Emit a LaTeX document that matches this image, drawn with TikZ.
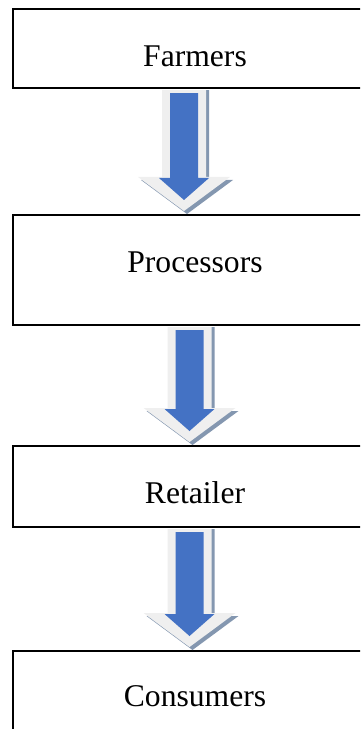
\documentclass[tikz,border=0pt]{standalone}
\usepackage{fontspec}
\setmainfont{Liberation Serif}
\usepackage{tikz}
\usetikzlibrary{calc,positioning}
\definecolor{arrowblue}{HTML}{4472C4}
\definecolor{arrowlight}{HTML}{EFEFEF}
\definecolor{arrowshade}{HTML}{8497B0}
\tikzset{%
	stage/.style    = {draw, rectangle, line width=1.2pt, inner sep=0pt, minimum width=7.28cm, text height=1.14cm, font=\fontsize{18}{21.6}\selectfont}, % box
	shadebody/.style = {fill=arrowshade, draw=none}, % shadow of the arrow
	lightbody/.style = {fill=arrowlight, draw=none}, % light rim
	bluebody/.style  = {fill=arrowblue, draw=none}, % arrow itself
}
% block arrow between two stages, #3 = horizontal offset in px
\newcommand{\blockarrow}[3]{%
	\coordinate (top) at ($(#1.south)+(#3,0)$);
	\coordinate (tip) at ($(#2.north)+(#3,0)$);
	\fill[shadebody] ($(top)+(-19,1)$) -- ($(top)+(25,1)$) -- ($(tip)+(25,-34)$) -- ($(tip)+(49,-34)$) -- ($(tip)+(3,0)$) -- ($(tip)+(-43,-34)$) -- ($(tip)+(-19,-34)$) -- cycle;
	\fill[lightbody] ($(top)+(-22,1)$) -- ($(top)+(22,1)$) -- ($(tip)+(22,-37)$) -- ($(tip)+(46,-37)$) -- ($(tip)+(0,-3)$) -- ($(tip)+(-46,-37)$) -- ($(tip)+(-22,-37)$) -- cycle;
	\fill[bluebody] ($(top)+(-14,4)$) -- ($(top)+(14,4)$) -- ($(tip)+(14,-36)$) -- ($(tip)+(25,-36)$) -- ($(tip)+(0,-14)$) -- ($(tip)+(-25,-36)$) -- ($(tip)+(-14,-36)$) -- cycle;
}
\begin{document}
\begin{tikzpicture}[x=0.02cm,y=-0.02cm]
	\clip (0,0) rectangle (360,729);
	\useasboundingbox (0,0) rectangle (360,729);
	\node [stage, anchor=north, text depth=0.44cm] (farmers) at (195,8) {Farmers};
	\node [stage, anchor=north, text depth=1.06cm] (processors) at (195,214) {Processors};
	\node [stage, anchor=north, text depth=0.48cm] (retailer) at (195,445) {Retailer};
	\node [stage, anchor=north, text height=1.10cm, text depth=1.2cm] (consumers) at (195,650) {Consumers};

	\blockarrow{farmers}{processors}{-11}
	\blockarrow{processors}{retailer}{-5.5}
	\blockarrow{retailer}{consumers}{-5.5}
\end{tikzpicture}
\end{document}
